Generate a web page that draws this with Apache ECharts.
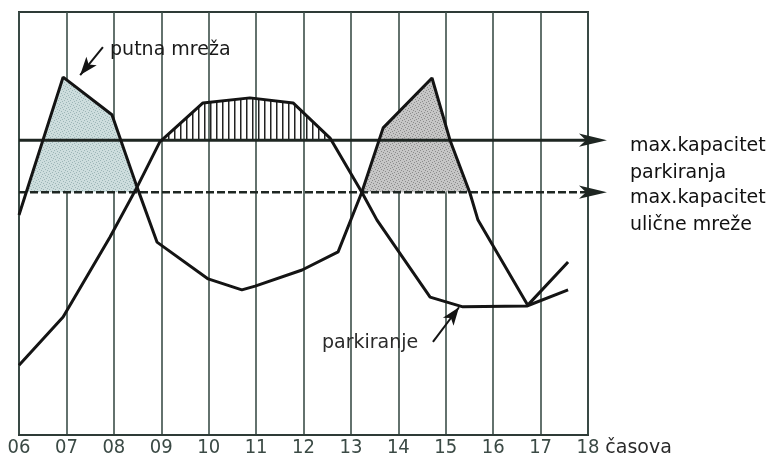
<!DOCTYPE html>
<html>
<head>
<meta charset="utf-8">
<script src="https://cdn.jsdelivr.net/npm/echarts@6/dist/echarts.min.js"></script>
<style>
  html, body { margin: 0; padding: 0; background: #fff; }
  #chart { width: 777px; height: 459px; }
</style>
</head>
<body>
<div id="chart"></div>
<script>
// sati na x osi
const hourLabels = ['06', '07', '08', '09', '10', '11', '12', '13', '14', '15', '16', '17', '18']
const axisUnit = 'časova'

// kapaciteti (relativno opterećenje)
const kapacitetParkiranja = 69.7
const kapacitetMreze = 57.4
const kapacitetLabels = ['max.kapacitet\nparkiranja', 'max.kapacitet\nulične mreže']
const curveLabels = ['putna mreža', 'parkiranje']

// [sat, opterećenje]
const putnaMreza = [
  [6.0, 52.0], [6.93, 84.6], [7.96, 75.7], [8.49, 58.6], [8.91, 45.6], [9.99, 36.9],
  [10.70, 34.3], [10.98, 35.2], [11.97, 39.0], [12.73, 43.3], [13.23, 57.4], [13.68, 72.6],
  [14.71, 84.4], [15.09, 69.7], [15.51, 57.2], [15.68, 50.8], [16.73, 30.7], [17.58, 40.9]
]
const parkiranje = [
  [6.0, 16.5], [6.93, 27.9], [7.92, 46.8], [8.49, 58.6], [8.97, 69.3], [9.88, 78.5],
  [10.87, 79.7], [11.78, 78.5], [12.56, 70.2], [13.23, 57.4], [13.55, 50.8], [14.67, 32.6],
  [15.36, 30.3], [16.71, 30.5], [17.58, 34.3]
]

// dijelovi krivulja iznad kapaciteta
const putnaJutroIznad = [[6.15, 57.4], [6.93, 84.6], [7.96, 75.7], [8.49, 58.6], [8.53, 57.4]]
const parkiranjeIznad = [[8.98, 69.7], [9.88, 78.5], [10.87, 79.7], [11.78, 78.5], [12.58, 69.7]]
const putnaPopodneIznad = [[13.23, 57.4], [13.68, 72.6], [14.71, 84.4], [15.09, 69.7], [15.51, 57.4]]

function stipple(base, dot) {
  const c = document.createElement('canvas')
  c.width = 6
  c.height = 6
  const g = c.getContext('2d')
  g.fillStyle = base
  g.fillRect(0, 0, 6, 6)
  g.fillStyle = dot
  ;[[0, 0], [3, 1], [1, 3], [4, 4], [2, 5], [5, 2]].forEach(p => g.fillRect(p[0], p[1], 1, 1))
  return c
}

function hatch() {
  const c = document.createElement('canvas')
  c.width = 6
  c.height = 6
  const g = c.getContext('2d')
  g.fillStyle = '#222'
  g.fillRect(0, 0, 1.5, 6)
  return c
}

const textFont = '"DejaVu Sans", sans-serif'
const chart = echarts.init(document.getElementById('chart'))

const capSeries = (name, cap, lineType, width) => ({
  name: name,
  type: 'line',
  clip: false,
  z: 2,
  symbol: 'arrow',
  symbolSize: [10, 28],
  lineStyle: { color: '#1e2622', width: width, type: lineType },
  itemStyle: { color: '#1e2622' },
  data: [
    { value: [6, cap], symbol: 'none' },
    { value: [18.4, cap], symbolRotate: -90 }
  ]
})

// tekst uz strelice kapaciteta
const capLabel = (cap, text) => ({
  type: 'scatter',
  clip: false,
  silent: true,
  symbolSize: 0,
  itemStyle: { opacity: 1 },
  label: {
    show: true,
    position: 'right',
    distance: 0,
    verticalAlign: 'top',
    offset: [0, -8],
    color: '#111',
    opacity: 1,
    fontFamily: textFont,
    fontSize: 19,
    lineHeight: 27,
    formatter: text
  },
  data: [[18.885, cap]]
})

const option = {
  animation: false,
  grid: {
    left: 19, right: 189, top: 12, bottom: 24,
    show: true,
    borderColor: '#2e3b37',
    borderWidth: 2
  },
  xAxis: {
    type: 'value',
    min: 6,
    max: 18,
    interval: 1,
    name: axisUnit,
    nameLocation: 'end',
    nameGap: 4,
    nameTextStyle: {
      color: '#2a2a2a',
      fontFamily: textFont,
      fontSize: 19,
      verticalAlign: 'top',
      padding: [4, 0, 0, 0]
    },
    axisLine: { show: true, lineStyle: { color: '#2e3b37', width: 2 } },
    axisTick: { show: false },
    axisLabel: {
      margin: 3,
      color: '#3b4a45',
      fontFamily: '"Liberation Sans Narrow", "DejaVu Sans Condensed", sans-serif',
      fontSize: 20,
      formatter: v => hourLabels[Math.round(v) - 6]
    },
    splitLine: { show: true, lineStyle: { color: '#3d4f49', width: 1.6 } }
  },
  yAxis: {
    type: 'value',
    min: 0,
    max: 100,
    show: false
  },
  series: [
    {
      name: 'putna jutro',
      type: 'line',
      z: 1,
      symbol: 'none',
      lineStyle: { width: 0 },
      areaStyle: { origin: kapacitetMreze, opacity: 1, color: { image: stipple('#cddddd', '#9db6b7'), repeat: 'repeat' } },
      data: putnaJutroIznad
    },
    {
      name: 'parkiranje iznad',
      type: 'line',
      z: 1,
      symbol: 'none',
      lineStyle: { width: 0 },
      areaStyle: { origin: kapacitetParkiranja, opacity: 1, color: { image: hatch(), repeat: 'repeat' } },
      data: parkiranjeIznad
    },
    {
      name: 'putna popodne',
      type: 'line',
      z: 1,
      symbol: 'none',
      lineStyle: { width: 0 },
      areaStyle: { origin: kapacitetMreze, opacity: 1, color: { image: stipple('#c6c6c6', '#8c8c8c'), repeat: 'repeat' } },
      data: putnaPopodneIznad
    },
    capSeries('kapacitet parkiranja', kapacitetParkiranja, 'solid', 3),
    capSeries('kapacitet mreže', kapacitetMreze, [8, 3], 2.6),
    capLabel(kapacitetParkiranja, kapacitetLabels[0]),
    capLabel(kapacitetMreze, kapacitetLabels[1]),
    {
      name: curveLabels[0],
      type: 'line',
      z: 3,
      symbol: 'none',
      lineStyle: { color: '#141414', width: 3 },
      data: putnaMreza,
      markPoint: {
        silent: true,
        symbol: 'circle',
        symbolSize: 0,
        label: {
          show: true, position: 'right', distance: 0,
          color: '#1a1a1a', fontFamily: textFont, fontSize: 19,
          formatter: curveLabels[0]
        },
        data: [{ coord: [7.92, 91.0] }]
      },
      markLine: {
        silent: true,
        symbol: ['none', 'arrow'],
        symbolSize: [10, 18],
        label: { show: false },
        lineStyle: { color: '#141414', width: 2, type: 'solid' },
        data: [[{ coord: [7.77, 91.7] }, { coord: [7.29, 85.1] }]]
      }
    },
    {
      name: curveLabels[1],
      type: 'line',
      z: 3,
      symbol: 'none',
      lineStyle: { color: '#141414', width: 3 },
      data: parkiranje,
      markPoint: {
        silent: true,
        symbol: 'circle',
        symbolSize: 0,
        label: {
          show: true, position: 'right', distance: 0,
          color: '#2a2a2a', fontFamily: textFont, fontSize: 19,
          formatter: curveLabels[1]
        },
        data: [{ coord: [12.39, 21.7] }]
      },
      markLine: {
        silent: true,
        symbol: ['none', 'arrow'],
        symbolSize: [10, 18],
        label: { show: false },
        lineStyle: { color: '#141414', width: 2, type: 'solid' },
        data: [[{ coord: [14.73, 22.0] }, { coord: [15.28, 30.2] }]]
      }
    }
  ]
}

chart.setOption(option)
</script>
</body>
</html>
